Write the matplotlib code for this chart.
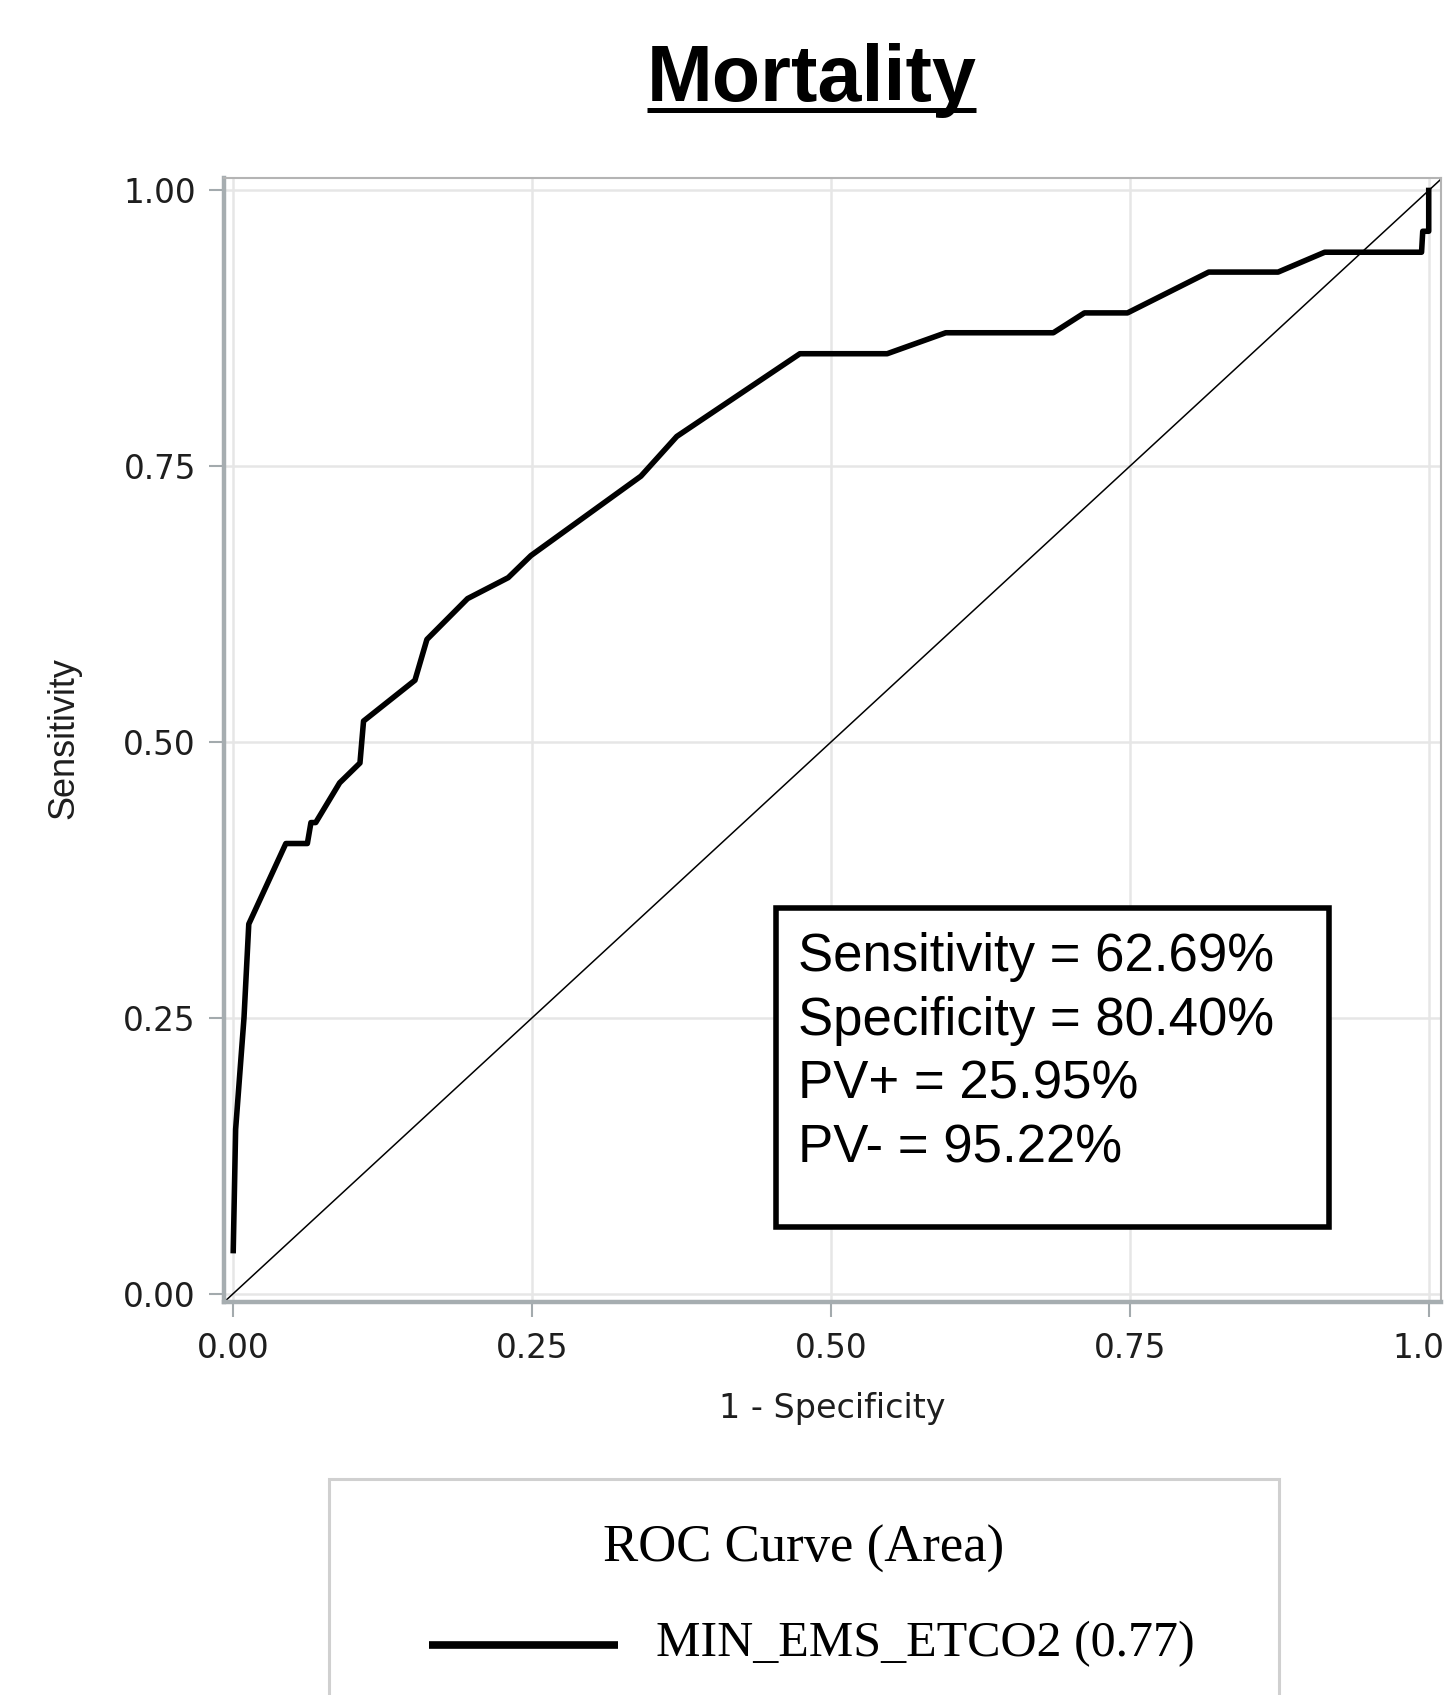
import matplotlib
matplotlib.use("Agg")
import matplotlib.pyplot as plt
from matplotlib.patches import Rectangle
from matplotlib.lines import Line2D
from matplotlib import font_manager

# ROC curve points
fpr = [0.0, 0.002, 0.009, 0.013, 0.044, 0.062, 0.065, 0.069, 0.089, 0.106, 0.109,
       0.152, 0.162, 0.196, 0.230, 0.249, 0.341, 0.371, 0.474, 0.547, 0.596, 0.686,
       0.712, 0.748, 0.816, 0.874, 0.913, 0.994, 0.995, 1.0, 1.0]
tpr = [0.039, 0.149, 0.250, 0.335, 0.408, 0.408, 0.427, 0.427, 0.463, 0.481, 0.519,
       0.556, 0.593, 0.630, 0.649, 0.669, 0.741, 0.777, 0.852, 0.852, 0.871, 0.871,
       0.889, 0.889, 0.926, 0.926, 0.944, 0.944, 0.963, 0.963, 1.0]

ticks = [0.0, 0.25, 0.5, 0.75, 1.0]
tick_labels = ["0.00", "0.25", "0.50", "0.75", "1.00"]

series_name = "MIN_EMS_ETCO2"
auc = 0.77
stats_lines = ["Sensitivity = 62.69%", "Specificity = 80.40%",
               "PV+ = 25.95%", "PV- = 95.22%"]

installed = {f.name for f in font_manager.fontManager.ttflist}
if "Liberation Sans Narrow" in installed:
    ylab_family, ylab_size = "Liberation Sans Narrow", 31
else:
    ylab_family, ylab_size = "Liberation Sans", 26

fig = plt.figure(figsize=(14.44, 16.95), dpi=100)
ax = fig.add_axes([0.1549, 0.2316, 0.8428, 0.6632])
ax.set_xlim(-0.008, 1.010)
ax.set_ylim(-0.008, 1.011)

ax.grid(color="#e6e6e6", lw=1.8)
ax.set_axisbelow(True)

ax.axline((0, 0), (1, 1), color="black", lw=1.1, zorder=2)
ax.plot(fpr, tpr, color="black", lw=4.0, zorder=3)

ax.set_xticks(ticks)
ax.set_yticks(ticks)
ax.set_xticklabels(tick_labels, family="DejaVu Sans")
ax.set_yticklabels(tick_labels, family="DejaVu Sans")
ax.tick_params(length=11, width=1.5, color="#a3aaad", labelsize=23.5,
               labelcolor="#1e1e1e", pad=9)
ax.tick_params(axis="x", pad=10)

for side in ["left", "bottom"]:
    ax.spines[side].set_color("#a6adb0")
    ax.spines[side].set_linewidth(3.2)
for side in ["top", "right"]:
    ax.spines[side].set_color("#b4b4b4")
    ax.spines[side].set_linewidth(1.5)

ax.set_xlabel("1 - Specificity", family="DejaVu Sans", fontsize=24, color="#1e1e1e")
ax.xaxis.set_label_coords(0.5, -0.080)
ax.set_ylabel("Sensitivity", family=ylab_family, fontsize=ylab_size, color="#1e1e1e")
ax.yaxis.set_label_coords(-0.117, 0.502)

# stats box
ax.add_patch(Rectangle((0.4538, 0.0673), 0.4547, 0.2836, transform=ax.transAxes,
                       facecolor="white", edgecolor="black", lw=4, zorder=5))
for i, line in enumerate(stats_lines):
    ax.text(0.4716, 0.2952 - i * 0.0569, line, transform=ax.transAxes,
            family="Liberation Sans", fontsize=38, va="baseline", ha="left", zorder=6)

# title with underline
title = fig.text(0.562, 0.9407, "Mortality", ha="center", va="baseline",
                 fontsize=57, fontweight="bold", family="Liberation Sans")
fig.canvas.draw()
bb = title.get_window_extent().transformed(fig.transFigure.inverted())
fig.add_artist(Line2D([bb.x0, bb.x1], [0.9351, 0.9351], transform=fig.transFigure,
                      color="black", lw=3.6, solid_capstyle="butt"))

# legend
fig.add_artist(Rectangle((0.2276, -0.05), 0.6579, 0.1777, transform=fig.transFigure,
                         facecolor="white", edgecolor="#d0d0d0", lw=2.2, clip_on=False))
fig.text(0.5568, 0.0859, "ROC Curve (Area)", ha="center", va="center",
         fontsize=38, family="Liberation Serif")
fig.add_artist(Line2D([0.2971, 0.4280], [0.0295, 0.0295], transform=fig.transFigure,
                      color="black", lw=5.5, solid_capstyle="butt"))
fig.text(0.4543, 0.0299, f"{series_name} ({auc:.2f})", ha="left", va="center",
         fontsize=36, family="Liberation Serif")

fig.savefig("out.png", dpi=100)
